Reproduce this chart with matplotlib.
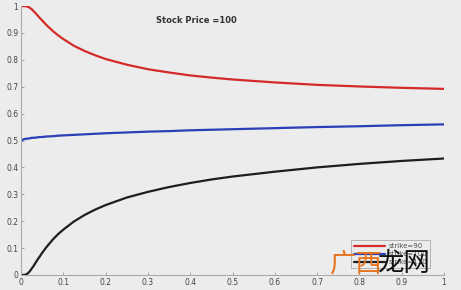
import matplotlib.pyplot as plt

# time to maturity (years)
t = [0, 0.005, 0.01, 0.015, 0.02, 0.025, 0.03, 0.035, 0.04, 0.045, 0.05,
     0.06, 0.075, 0.0875, 0.1, 0.125, 0.15, 0.175, 0.2, 0.25, 0.3, 0.35,
     0.4, 0.45, 0.5, 0.6, 0.7, 0.8, 0.9, 1.0]

# call delta for three strikes, stock price = 100
delta_90 = [1.0, 1.0, 0.9998, 0.998, 0.994, 0.988, 0.980, 0.972, 0.963, 0.954,
            0.946, 0.929, 0.907, 0.891, 0.877, 0.852, 0.833, 0.817, 0.803, 0.782,
            0.765, 0.753, 0.742, 0.734, 0.727, 0.716, 0.707, 0.701, 0.696, 0.692]
delta_100 = [0.5, 0.504, 0.506, 0.507, 0.508, 0.510, 0.510, 0.511, 0.512, 0.513,
             0.513, 0.515, 0.516, 0.518, 0.519, 0.521, 0.523, 0.525, 0.527, 0.530,
             0.533, 0.535, 0.538, 0.540, 0.542, 0.546, 0.550, 0.553, 0.557, 0.560]
delta_110 = [0.0, 0.0, 0.0008, 0.005, 0.013, 0.024, 0.035, 0.048, 0.060, 0.071,
             0.083, 0.104, 0.132, 0.152, 0.169, 0.199, 0.223, 0.243, 0.260, 0.288,
             0.309, 0.327, 0.342, 0.355, 0.366, 0.384, 0.400, 0.413, 0.424, 0.433]

labels = ["strike=90", "strike=100", "strike=110"]
ticks = [0, 0.1, 0.2, 0.3, 0.4, 0.5, 0.6, 0.7, 0.8, 0.9, 1]
tick_labels = ["0", "0.1", "0.2", "0.3", "0.4", "0.5", "0.6", "0.7", "0.8", "0.9", "1"]

bg = "#ececec"
fig = plt.figure(figsize=(4.61, 2.90), dpi=100, facecolor=bg)
ax = fig.add_axes([0.046, 0.052, 0.917, 0.927], facecolor=bg)

kw = dict(lw=1.6, solid_joinstyle="round", solid_capstyle="round")
ax.plot(t, delta_90, color="#d42a2a", label=labels[0], **kw)
ax.plot(t, delta_100, color="#2a3fb8", label=labels[1], **kw)
ax.plot(t, delta_110, color="#1e1e1e", label=labels[2], **kw)

ax.set_xlim(0, 1)
ax.set_ylim(0, 1)
ax.set_xticks(ticks)
ax.set_xticklabels(tick_labels)
ax.set_yticks(ticks)
ax.set_yticklabels(tick_labels)
ax.tick_params(direction="in", length=2.5, width=0.6, color="#999999",
               labelsize=5.5, labelcolor="#444444", pad=2)
for s in ["top", "right"]:
    ax.spines[s].set_visible(False)
for s in ["left", "bottom"]:
    ax.spines[s].set_color("#aaaaaa")
    ax.spines[s].set_linewidth(0.8)

ax.text(0.32, 0.948, "Stock Price =100", fontsize=6, fontweight="bold",
        color="#333333", transform=ax.transAxes, va="center")

leg = ax.legend(loc="lower right", bbox_to_anchor=(0.975, 0.012), fontsize=5,
                frameon=True, fancybox=False, handlelength=4.5,
                borderpad=0.4, labelspacing=0.3, handletextpad=0.5)
leg.get_frame().set_edgecolor("#999999")
leg.get_frame().set_facecolor(bg)
leg.get_frame().set_linewidth(0.6)
for txt in leg.get_texts():
    txt.set_color("#555555")

# watermark
fig.text(0.715, 0.09, "广西", fontsize=19, color="#e8731e",
         family=["Noto Sans CJK SC", "DejaVu Sans"], va="center", ha="left")
fig.text(0.818, 0.09, "龙网", fontsize=19, color="#111111",
         family=["Noto Sans CJK SC", "DejaVu Sans"], va="center", ha="left")

fig.savefig("out.png", dpi=100, facecolor=bg)
